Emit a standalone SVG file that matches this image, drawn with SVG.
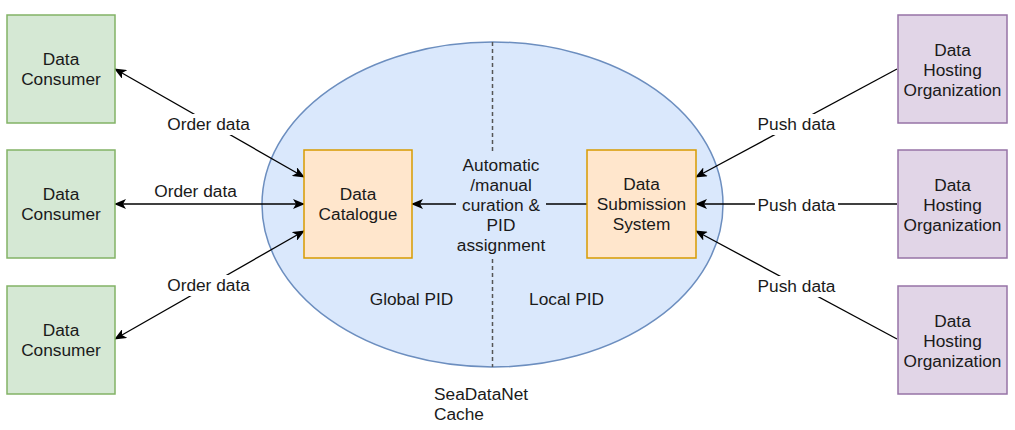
<svg xmlns="http://www.w3.org/2000/svg" width="1015" height="430" viewBox="0 0 1015 430">
<style>
text{font-family:"Liberation Sans",Arial,Helvetica,sans-serif;font-size:17.3px;fill:#1a1a1a;text-anchor:middle}
.consumer{fill:#d5e8d4;stroke:#82b366;stroke-width:1.5}
.host{fill:#e1d5e7;stroke:#9673a6;stroke-width:1.5}
.core{fill:#ffe6cc;stroke:#d79b00;stroke-width:1.5}
.edge{fill:none;stroke:#000;stroke-width:1.3}
.lblbg{fill:#fff}
</style>
<defs>
<marker id="arr" viewBox="0 0 12 10" refX="11" refY="5" markerWidth="12" markerHeight="10" markerUnits="userSpaceOnUse" orient="auto-start-reverse">
<path d="M0,0 L12,5 L0,10 L3,5 Z" fill="#000"/>
</marker>
</defs>
<g id="cache">
<ellipse cx="492.5" cy="204.5" rx="230.5" ry="162.5" fill="#dae8fc" stroke="#6c8ebf" stroke-width="1.5"/>
<line x1="492.5" y1="42" x2="492.5" y2="367" stroke="#555" stroke-width="1.5" stroke-dasharray="4 3"/>
<text x="411.5" y="305">Global PID</text>
<text x="566.5" y="305">Local PID</text>
<text x="434" y="400" style="text-anchor:start">SeaDataNet</text>
<text x="434" y="420" style="text-anchor:start">Cache</text>
</g>
<g id="connectors">
<line class="edge" x1="304" y1="177" x2="115" y2="69" marker-start="url(#arr)" marker-end="url(#arr)"/>
<line class="edge" x1="304" y1="204" x2="115" y2="204" marker-start="url(#arr)" marker-end="url(#arr)"/>
<line class="edge" x1="304" y1="231" x2="115" y2="339" marker-start="url(#arr)" marker-end="url(#arr)"/>
<line class="edge" x1="897" y1="69" x2="696" y2="177" marker-end="url(#arr)"/>
<line class="edge" x1="897" y1="204" x2="696" y2="204" marker-end="url(#arr)"/>
<line class="edge" x1="897" y1="339" x2="696" y2="231" marker-end="url(#arr)"/>
<line class="edge" x1="587" y1="204" x2="412" y2="204" marker-end="url(#arr)"/>
<rect class="lblbg" x="165" y="114" width="87" height="21"/>
<text x="208.5" y="130">Order data</text>
<rect class="lblbg" x="152" y="181" width="87" height="21"/>
<text x="195.5" y="197">Order data</text>
<rect class="lblbg" x="165" y="275" width="87" height="21"/>
<text x="208.5" y="291">Order data</text>
<rect class="lblbg" x="755" y="114" width="83" height="21"/>
<text x="796.5" y="130">Push data</text>
<rect class="lblbg" x="755" y="195" width="83" height="21"/>
<text x="796.5" y="211">Push data</text>
<rect class="lblbg" x="755" y="276" width="83" height="21"/>
<text x="796.5" y="292">Push data</text>
<rect x="456" y="154" width="90" height="103" fill="#dae8fc"/>
<text x="501" y="171">Automatic</text>
<text x="501" y="191">/manual</text>
<text x="501" y="211">curation &amp;</text>
<text x="501" y="231">PID</text>
<text x="501" y="251">assignment</text>
</g>
<g id="consumer1"><rect class="consumer" x="7" y="15" width="108" height="108"/><text x="61" y="65">Data</text><text x="61" y="85">Consumer</text></g>
<g id="consumer2"><rect class="consumer" x="7" y="150" width="108" height="108"/><text x="61" y="200">Data</text><text x="61" y="220">Consumer</text></g>
<g id="consumer3"><rect class="consumer" x="7" y="286" width="108" height="108"/><text x="61" y="336">Data</text><text x="61" y="356">Consumer</text></g>
<g id="catalogue"><rect class="core" x="304" y="150" width="108" height="108"/><text x="358" y="200">Data</text><text x="358" y="220">Catalogue</text></g>
<g id="submission"><rect class="core" x="587" y="150" width="109" height="108"/><text x="641.5" y="190">Data</text><text x="641.5" y="210">Submission</text><text x="641.5" y="230">System</text></g>
<g id="host1"><rect class="host" x="898" y="15" width="109" height="108"/><text x="952.5" y="56">Data</text><text x="952.5" y="76">Hosting</text><text x="952.5" y="96">Organization</text></g>
<g id="host2"><rect class="host" x="898" y="150" width="109" height="108"/><text x="952.5" y="191">Data</text><text x="952.5" y="211">Hosting</text><text x="952.5" y="231">Organization</text></g>
<g id="host3"><rect class="host" x="898" y="286" width="109" height="108"/><text x="952.5" y="327">Data</text><text x="952.5" y="347">Hosting</text><text x="952.5" y="367">Organization</text></g>
</svg>
